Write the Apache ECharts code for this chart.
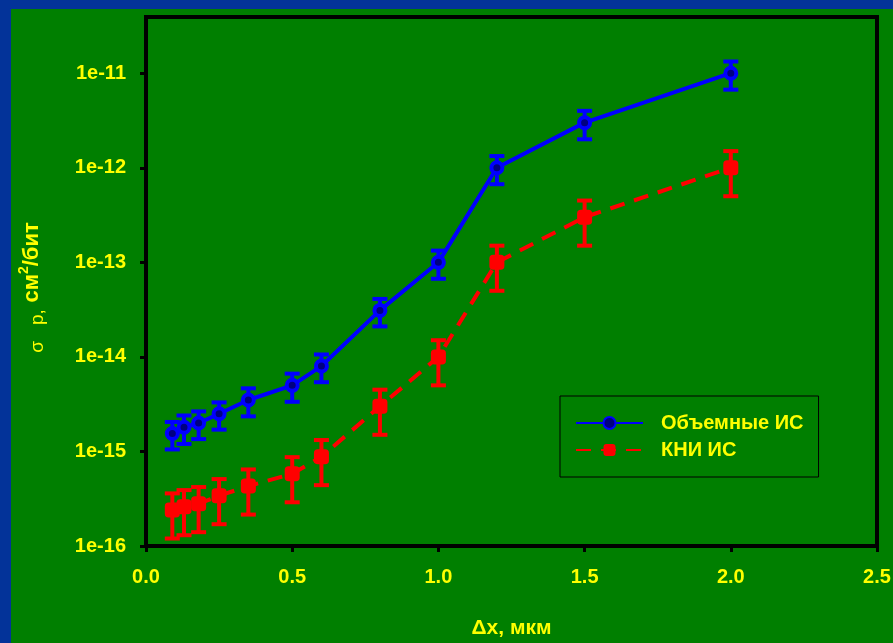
<!DOCTYPE html>
<html>
<head>
<meta charset="utf-8">
<script src="https://cdn.jsdelivr.net/npm/echarts@6/dist/echarts.min.js"></script>
<style>
  html, body { margin: 0; padding: 0; background: #033399; }
  #chart { position: absolute; left: 11px; top: 9px; width: 882px; height: 634px; }
</style>
</head>
<body>
<div id="chart"></div>
<script>
// x positions (мкм)
const xVals = [0.09, 0.13, 0.18, 0.25, 0.35, 0.5, 0.6, 0.8, 1.0, 1.2, 1.5, 2.0]

// Объемные ИС
const bulkVals = [1.55e-15, 1.8e-15, 2.0e-15, 2.5e-15, 3.5e-15, 5e-15, 8e-15, 3.1e-14, 1e-13, 1e-12, 3e-12, 1e-11]
const bulkLow = [1.05e-15, 1.2e-15, 1.35e-15, 1.7e-15, 2.35e-15, 3.35e-15, 5.4e-15, 2.1e-14, 6.7e-14, 6.7e-13, 2e-12, 6.7e-12]
const bulkHigh = [2.05e-15, 2.4e-15, 2.65e-15, 3.3e-15, 4.65e-15, 6.65e-15, 1.06e-14, 4.1e-14, 1.33e-13, 1.33e-12, 4e-12, 1.33e-11]

// КНИ ИС
const soiVals = [2.4e-16, 2.6e-16, 2.8e-16, 3.4e-16, 4.3e-16, 5.8e-16, 8.8e-16, 3e-15, 1e-14, 1e-13, 3e-13, 1e-12]
const soiLow = [1.2e-16, 1.3e-16, 1.4e-16, 1.7e-16, 2.15e-16, 2.9e-16, 4.4e-16, 1.5e-15, 5e-15, 5e-14, 1.5e-13, 5e-13]
const soiHigh = [3.6e-16, 3.9e-16, 4.2e-16, 5.1e-16, 6.45e-16, 8.7e-16, 1.32e-15, 4.5e-15, 1.5e-14, 1.5e-13, 4.5e-13, 1.5e-12]

const yTickVals = [1e-16, 1e-15, 1e-14, 1e-13, 1e-12, 1e-11]
const yTicks = ['1e-16', '1e-15', '1e-14', '1e-13', '1e-12', '1e-11']

const yellow = '#ffff00'
const font = 'Liberation Sans, Arial, sans-serif'

const chart = echarts.init(document.getElementById('chart'))

const pairs = (ys) => xVals.map((x, i) => [x, ys[i]])
const bars = (lo, hi) => xVals.map((x, i) => [x, lo[i], hi[i]])

// error bars with caps
const errorBar = (color) => (params, api) => {
  const x = api.value(0)
  const lo = api.coord([x, api.value(1)])
  const hi = api.coord([x, api.value(2)])
  const half = 7.5
  const style = { stroke: color, lineWidth: 4 }
  return {
    type: 'group',
    children: [
      { type: 'line', shape: { x1: lo[0], y1: lo[1], x2: hi[0], y2: hi[1] }, style },
      { type: 'line', shape: { x1: lo[0] - half, y1: lo[1], x2: lo[0] + half, y2: lo[1] }, style },
      { type: 'line', shape: { x1: hi[0] - half, y1: hi[1], x2: hi[0] + half, y2: hi[1] }, style }
    ]
  }
}

const option = {
  backgroundColor: '#007f00',
  animation: false,
  grid: {
    left: 135, top: 8, right: 16, bottom: 97,
    outerBoundsMode: 'none', containLabel: false,
    show: true, borderColor: '#000', borderWidth: 4, backgroundColor: 'transparent'
  },
  legend: {
    data: ['Объемные ИС', 'КНИ ИС'],
    orient: 'vertical',
    left: 549, top: 387,
    padding: [17, 15, 17, 15],
    borderColor: '#000', borderWidth: 1,
    itemWidth: 67, itemHeight: 15, itemGap: 7,
    textStyle: { color: yellow, fontFamily: font, fontWeight: 'bold', fontSize: 20, padding: [0, 0, 0, 13], lineHeight: 20 }
  },
  xAxis: {
    type: 'value', min: 0, max: 2.5, interval: 0.5,
    name: 'Δx, мкм', nameLocation: 'middle', nameGap: 72,
    nameTextStyle: { color: yellow, fontFamily: font, fontWeight: 'bold', fontSize: 21 },
    axisLine: { onZero: false, lineStyle: { color: '#000', width: 4 } },
    axisTick: { show: true, length: 6, lineStyle: { color: '#000', width: 3 } },
    axisLabel: { color: yellow, fontFamily: font, fontWeight: 'bold', fontSize: 20, margin: 21,
      formatter: (v) => v.toFixed(1) },
    splitLine: { show: false }
  },
  yAxis: {
    type: 'log', logBase: 10, min: 1e-16, max: 3.93e-11,
    name: '{s|σ   р,}  {b|см}{sup|2}{b|/бит}',
    nameLocation: 'middle', nameRotate: 90, nameGap: 99,
    nameTextStyle: {
      color: yellow, fontFamily: font, padding: [0, 12, 0, 0],
      rich: {
        s: { color: yellow, fontFamily: font, fontSize: 19, verticalAlign: 'bottom', lineHeight: 30 },
        b: { color: yellow, fontFamily: font, fontWeight: 'bold', fontSize: 22, verticalAlign: 'middle', lineHeight: 30 },
        sup: { color: yellow, fontFamily: font, fontWeight: 'bold', fontSize: 14, verticalAlign: 'top', lineHeight: 30 }
      }
    },
    axisLine: { lineStyle: { color: '#000', width: 4 } },
    axisTick: { show: true, length: 6, customValues: yTickVals, lineStyle: { color: '#000', width: 3 } },
    axisLabel: {
      color: yellow, fontFamily: font, fontWeight: 'bold', fontSize: 20, margin: 20,
      customValues: yTickVals,
      formatter: (v) => yTicks[yTickVals.findIndex(t => Math.abs(Math.log10(t) - Math.log10(v)) < 1e-6)] || ''
    },
    splitLine: { show: false }
  },
  series: [
    {
      type: 'custom', renderItem: errorBar('#0000ff'), data: bars(bulkLow, bulkHigh),
      encode: { x: 0, y: [1, 2] }, z: 2, silent: true
    },
    {
      type: 'custom', renderItem: errorBar('#ff0000'), data: bars(soiLow, soiHigh),
      encode: { x: 0, y: [1, 2] }, z: 2, silent: true
    },
    {
      name: 'Объемные ИС', type: 'line', data: pairs(bulkVals), z: 3,
      lineStyle: { color: '#0000ff', width: 4 },
      symbol: 'circle', symbolSize: 11,
      itemStyle: { color: '#000080', borderColor: '#0000ff', borderWidth: 4 }
    },
    {
      name: 'КНИ ИС', type: 'line', data: pairs(soiVals), z: 3,
      lineStyle: { color: '#ff0000', width: 4, type: [15, 10] },
      symbol: 'roundRect', symbolSize: 15,
      itemStyle: { color: '#ff0000' }
    }
  ]
}

chart.setOption(option)
</script>
</body>
</html>
